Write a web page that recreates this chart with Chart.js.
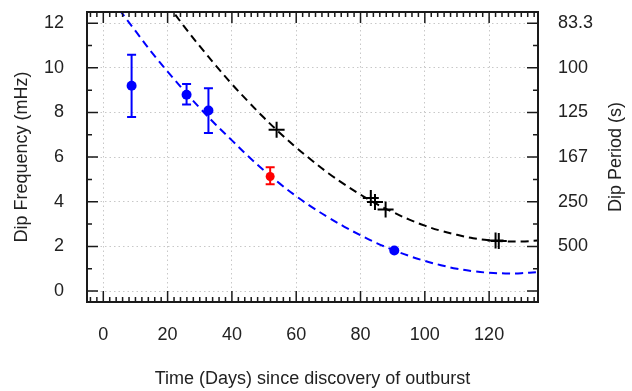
<!DOCTYPE html>
<html><head><meta charset="utf-8">
<script src="https://cdn.jsdelivr.net/npm/chart.js@4"></script>
<style>html,body{margin:0;padding:0;background:#fff;}canvas{display:block;}</style>
</head><body>
<canvas id="c" width="632" height="391"></canvas>
<script>
// ---- data ----
const blueDays  = [8.8, 25.9, 32.7];
const blueFreq  = [9.2, 8.79, 8.09];
const blueLo    = [7.8, 8.36, 7.08];
const blueHi    = [10.58, 9.27, 9.08];
const redDays   = [51.9];
const redFreq   = [5.13];
const redLo     = [4.78];
const redHi     = [5.55];
const lateDays  = [90.5];
const lateFreq  = [1.82];
const crossDays = [53.9, 83.2, 84.5, 87.8, 122.0, 123.0];
const crossFreq = [7.23, 4.17, 3.99, 3.65, 2.26, 2.24];
const blueFitDays = [5,10,15,20,25,30,35,40,45,50,55,60,65,70,75,80,85,90,95,100,105,110,115,120,125,130,135];
const blueFitFreq = [12.6,11.65,10.7,9.83,9.0,8.2,7.45,6.75,6.05,5.4,4.8,4.25,3.75,3.3,2.88,2.5,2.15,1.85,1.58,1.35,1.16,1.0,0.89,0.82,0.79,0.8,0.85];
const blackFitDays = [20,25,30,35,40,45,50,55,60,65,70,75,80,85,90,95,100,105,110,115,120,125,130,135];
const blackFitFreq = [12.85,11.88,10.97,10.10,9.27,8.50,7.76,7.07,6.43,5.84,5.28,4.78,4.32,3.90,3.54,3.21,2.93,2.70,2.52,2.37,2.28,2.23,2.22,2.26];
const dayTicks   = [0,20,40,60,80,100,120];
const freqTicks  = [0,2,4,6,8,10,12];
const periodLabels = ['', '500', '250', '167', '125', '100', '83.3'];
const xTitle = 'Time (Days) since discovery of outburst';
const yTitle = 'Dip Frequency (mHz)';
const y2Title = 'Dip Period (s)';

// ---- styling ----
const FAM = "'Liberation Sans', Arial, sans-serif";
const font = {family: FAM, size: 18};
const TXT = '#222';
const BLUE = '#0000ff', RED = '#ff0000', BLACK = '#000000';
const pts = (xs, ys) => xs.map((x, i) => ({x, y: ys[i]}));

const errorBars = {
  id: 'errorBars',
  beforeDatasetsDraw(chart) {
    const {ctx, scales: {x, y}} = chart;
    const draw = (days, lo, hi, color) => {
      ctx.save();
      ctx.strokeStyle = color; ctx.lineWidth = 2;
      days.forEach((d, i) => {
        const px = x.getPixelForValue(d);
        const p1 = y.getPixelForValue(lo[i]), p2 = y.getPixelForValue(hi[i]);
        ctx.beginPath();
        ctx.moveTo(px, p1); ctx.lineTo(px, p2);
        ctx.moveTo(px - 4.5, p1); ctx.lineTo(px + 4.5, p1);
        ctx.moveTo(px - 4.5, p2); ctx.lineTo(px + 4.5, p2);
        ctx.stroke();
      });
      ctx.restore();
    };
    draw(blueDays, blueLo, blueHi, BLUE);
    draw(redDays, redLo, redHi, RED);
  }
};

const frame = {
  id: 'frame',
  afterDraw(chart) {
    const {ctx, chartArea: {left, right, top, bottom}, scales: {x, y}} = chart;
    ctx.save();
    ctx.strokeStyle = '#1a1a1a';
    ctx.lineWidth = 1.5;
    ctx.beginPath();
    for (let d = -4; d <= 134; d += 2) {
      const px = x.getPixelForValue(d);
      const len = dayTicks.includes(d) ? 11 : 5;
      ctx.moveTo(px, bottom); ctx.lineTo(px, bottom - len);
      ctx.moveTo(px, top); ctx.lineTo(px, top + len);
    }
    for (let f = 0; f <= 12; f += 1) {
      const py = y.getPixelForValue(f);
      const len = freqTicks.includes(f) ? 11 : 5;
      ctx.moveTo(left, py); ctx.lineTo(left + len, py);
      ctx.moveTo(right, py); ctx.lineTo(right - len, py);
    }
    ctx.stroke();
    ctx.lineWidth = 2;
    ctx.strokeRect(left, top, right - left, bottom - top);
    // right axis title (reads bottom to top)
    ctx.fillStyle = TXT;
    ctx.font = `18px ${FAM}`;
    ctx.textAlign = 'center';
    ctx.textBaseline = 'middle';
    ctx.translate(616, (top + bottom) / 2);
    ctx.rotate(-Math.PI / 2);
    ctx.fillText(y2Title, 0, 0);
    ctx.restore();
  }
};

const gridCommon = {color: '#c8c8c8', lineWidth: 1, drawTicks: false};
const borderCommon = {display: false, dash: [1.5, 3]};
const noPadY = s => { s.paddingTop = 0; s.paddingBottom = 0; };

new Chart(document.getElementById('c'), {
  type: 'scatter',
  data: {
    datasets: [
      {data: pts(blueDays, blueFreq), backgroundColor: BLUE, borderColor: BLUE, pointRadius: 5, borderWidth: 0, order: 1},
      {data: pts(redDays, redFreq), backgroundColor: RED, borderColor: RED, pointRadius: 4.5, borderWidth: 0, order: 1},
      {data: pts(lateDays, lateFreq), backgroundColor: BLUE, borderColor: BLUE, pointRadius: 5, borderWidth: 0, order: 1},
      {data: pts(crossDays, crossFreq), pointStyle: 'cross', pointRadius: 8, borderColor: BLACK, borderWidth: 2, order: 1},
      {data: pts(blueFitDays, blueFitFreq), showLine: true, pointRadius: 0, borderColor: BLUE, borderWidth: 2, borderDash: [8, 5], tension: 0.4, clip: 0, order: 2},
      {data: pts(blackFitDays, blackFitFreq), showLine: true, pointRadius: 0, borderColor: BLACK, borderWidth: 2, borderDash: [8, 5], tension: 0.4, clip: 0, order: 2}
    ]
  },
  options: {
    responsive: false, animation: false, devicePixelRatio: 1,
    layout: {padding: {top: 12, left: 0, right: 0, bottom: 0}},
    plugins: {legend: {display: false}, tooltip: {enabled: false}},
    scales: {
      x: {
        type: 'linear', position: 'bottom', min: -5.07, max: 135.2,
        afterBuildTicks: s => { s.ticks = dayTicks.map(v => ({value: v})); },
        afterFit: s => { s.height = 89; s.paddingLeft = 0; s.paddingRight = 0; },
        ticks: {font, color: TXT, padding: 22, maxRotation: 0, autoSkip: false},
        grid: gridCommon, border: borderCommon,
        title: {display: true, text: xTitle, font, color: TXT, padding: {top: 0, bottom: 1}}
      },
      y: {
        type: 'linear', position: 'left', min: -0.49, max: 12.5,
        afterBuildTicks: s => { s.ticks = freqTicks.map(v => ({value: v})); },
        afterFit: s => { s.width = 87; noPadY(s); },
        ticks: {font, color: TXT, padding: 23, autoSkip: false},
        grid: gridCommon, border: borderCommon,
        title: {display: true, text: yTitle, font, color: TXT, padding: {top: 11, bottom: 0}}
      },
      y2: {
        type: 'linear', position: 'right', min: -0.49, max: 12.5,
        afterBuildTicks: s => { s.ticks = freqTicks.map(v => ({value: v})); },
        afterFit: s => { s.width = 94; noPadY(s); },
        ticks: {font, color: TXT, padding: 20, autoSkip: false, callback: (v, i) => periodLabels[i]},
        grid: {drawOnChartArea: false, drawTicks: false}, border: {display: false}
      }
    }
  },
  plugins: [errorBars, frame]
});
</script>
</body></html>
